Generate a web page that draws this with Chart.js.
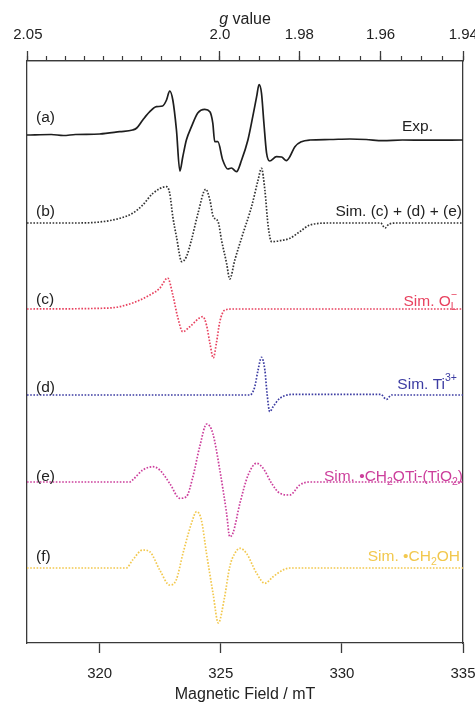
<!DOCTYPE html>
<html><head><meta charset="utf-8">
<script src="https://cdn.jsdelivr.net/npm/chart.js@4.4.0/dist/chart.umd.min.js"></script>
<style>html,body{margin:0;padding:0;background:#fff}#wrap{width:475px;height:702px;position:relative}</style>
</head><body><div id="wrap"><canvas id="c"></canvas></div>
<script>
// ---- data: [magnetic field (mT), intensity (a.u.)] ----
const expSpectrum = [[317.0,2],[318.0,2.5],[318.5,1.5],[319.0,2.5],[320.0,3],[320.83,5.3],[321.36,7],[321.53,9],[321.78,17],[322.07,25.3],[322.34,30.3],[322.6,31],[322.76,37],[322.89,46],[323.02,37],[323.17,7],[323.31,-34],[323.43,-20],[323.58,-3],[323.79,10.3],[324.05,24],[324.34,27.7],[324.55,25.3],[324.67,14],[324.75,-4.7],[324.88,-4.7],[325.08,-23],[325.29,-32],[325.44,-31],[325.65,-34.7],[325.86,-23],[326.12,-3],[326.32,20.3],[326.48,40.3],[326.58,52.5],[326.68,44],[326.78,14],[326.89,-16],[327.02,-24],[327.3,-19.7],[327.51,-20],[327.71,-23.7],[327.85,-19.7],[328.06,-9.7],[328.33,-4.7],[328.68,-3],[329.5,-2.5],[330.33,-2],[331.0,-2.5],[331.69,-3.7],[332.5,-3],[333.5,-3.2],[335.0,-3]];
const simSum = [[317,0],[319,0],[320,1],[320.83,4.7],[321.36,9.7],[321.78,18],[322.2,29.7],[322.76,36.3],[322.89,30],[323.02,6.3],[323.17,-13.7],[323.39,-38.7],[323.58,-33.7],[323.79,-17],[324.06,9.7],[324.38,33.7],[324.55,23],[324.69,6.3],[324.89,1.3],[325.03,-17],[325.24,-40.3],[325.37,-56],[325.58,-37],[325.92,-10.3],[326.27,16.3],[326.54,43],[326.68,54.7],[326.82,33],[326.96,-3.7],[327.1,-18.7],[327.44,-17.7],[327.85,-15.3],[328.26,-8.7],[328.68,-2],[329.5,0],[331.6,0],[331.78,-5],[331.95,-1],[332.3,0],[335,0]];
const simOL = [[317,0],[320.4,1],[321.36,6],[322.07,14],[322.48,20.7],[322.81,31],[323.02,14],[323.22,-8],[323.43,-22.7],[323.72,-17.7],[324.26,-7.7],[324.41,-16],[324.55,-34],[324.69,-49],[324.82,-34],[324.96,-12.7],[325.17,-1],[325.5,0],[335,0]];
const simTi = [[317,0],[326.2,0],[326.27,1],[326.4,8],[326.54,25],[326.68,37.7],[326.82,25],[326.91,1.7],[327.02,-16.7],[327.16,-11.7],[327.44,-3.3],[328.13,0.7],[331.6,0.7],[331.84,-4.3],[332.05,0],[335,0]];
const simCH2OTi = [[317,0],[321.24,0],[321.36,2],[321.78,12],[322.2,15.3],[322.48,12],[322.89,-1.3],[323.31,-16.3],[323.58,-14.7],[323.85,5.3],[324.13,35.3],[324.42,58],[324.67,48.7],[324.96,12],[325.24,-31.3],[325.37,-54.7],[325.5,-51.3],[325.79,-21.3],[326.13,7],[326.48,18.7],[326.75,13.7],[327.1,-1.3],[327.44,-11.3],[327.85,-13],[328.26,-3],[328.68,0],[335,0]];
const simCH2OH = [[317,0],[321.1,0],[321.36,8],[321.78,18],[322.07,16.3],[322.48,-2],[322.89,-17],[323.16,-12],[323.44,14.7],[323.79,44.7],[324.0,56.3],[324.2,48],[324.41,14.7],[324.68,-25.3],[324.9,-55],[325.15,-30],[325.37,1.3],[325.58,14.7],[325.79,19.7],[326.06,14.7],[326.48,-5.3],[326.82,-15.3],[327.16,-8.7],[327.57,-2],[327.85,0],[335,0]];

const fieldTicks = [320, 325, 330, 335];
const gMajor = [2.05, 2.0, 1.98, 1.96, 1.94];
const gMajorLabels = ['2.05', '2.0', '1.98', '1.96', '1.94'];
const gMinor = [2.05,2.045,2.04,2.035,2.03,2.025,2.02,2.015,2.01,2.005,2.0,1.995,1.99,1.985,1.98,1.975,1.97,1.965,1.96,1.955,1.95,1.945,1.94];
const MW_GHZ = 9.0965;
function gToField(g){ return 71.4477 * MW_GHZ / g; }

// vertical stacking of the traces (axis units)
const traceOffsets = [506, 420, 334, 248, 161, 75];

const FAM = '"Liberation Sans", Arial, Helvetica, sans-serif';
const AX = '#3a3a3a';
const LBL = 15.5;
const series = [
  {pts: expSpectrum, color:'#1e1e1e', dash:[]},
  {pts: simSum, color:'#333333', dash:[1.6,1.6]},
  {pts: simOL, color:'#e8425f', dash:[1.6,1.6]},
  {pts: simTi, color:'#3c3ca2', dash:[1.6,1.6]},
  {pts: simCH2OTi, color:'#cc3f9c', dash:[1.6,1.6]},
  {pts: simCH2OH, color:'#f2c84e', dash:[1.6,1.6]}
];

const labelDefs = [
  {tag:'(a)', tagDy:19, segs:[['Exp.']], xr:433, dy:10},
  {tag:'(b)', tagDy:11, segs:[['Sim. (c) + (d) + (e)']], xr:462, dy:11},
  {tag:'(c)', tagDy:9, segs:[['Sim. O'],['L','sub',true],['\u2212','sup']], xr:457, dy:7},
  {tag:'(d)', tagDy:7, segs:[['Sim. Ti'],['3+','sup']], xr:457, dy:10},
  {tag:'(e)', tagDy:5, segs:[['Sim. \u2022CH'],['2','sub'],['OTi-(TiO'],['2','sub'],[')']], xr:463, dy:5},
  {tag:'(f)', tagDy:11, segs:[['Sim. \u2022CH'],['2','sub'],['OH']], xr:460, dy:11}
];

function drawRich(ctx, segs, xr, ym, size, color){
  const parts = segs.map(([t,m,noAdv]) => {
    const fs = m ? size*0.68 : size;
    ctx.font = fs + 'px ' + FAM;
    return {t, m, fs, w: ctx.measureText(t).width, noAdv};
  });
  let total = 0;
  parts.forEach(p => { if(!p.noAdv) total += p.w; });
  let x = xr - total;
  ctx.fillStyle = color; ctx.textAlign = 'left'; ctx.textBaseline = 'middle';
  parts.forEach(p => {
    ctx.font = p.fs + 'px ' + FAM;
    const dy = p.m === 'sub' ? size*0.32 : (p.m === 'sup' ? -size*0.42 : 0);
    ctx.fillText(p.t, x, ym + dy);
    if(!p.noAdv) x += p.w;
  });
}

const labelPlugin = {
  id: 'traceLabels',
  afterDraw(chart){
    const ctx = chart.ctx, ys = chart.scales.y, area = chart.chartArea;
    ctx.save();
    const fi = 'italic 16px ' + FAM, fn = '16px ' + FAM;
    ctx.font = fi; const wg = ctx.measureText('g').width;
    ctx.font = fn; const wv = ctx.measureText(' value').width;
    const cx = (area.left + area.right)/2;
    const x0 = cx - (wg + wv)/2;
    const ty = chart.scales.x2.top + 20;
    ctx.fillStyle = '#222'; ctx.textAlign = 'left'; ctx.textBaseline = 'middle';
    ctx.font = fi; ctx.fillText('g', x0, ty);
    ctx.font = fn; ctx.fillText(' value', x0 + wg, ty);
    labelDefs.forEach((d, i) => {
      const base = ys.getPixelForValue(traceOffsets[i]);
      ctx.font = LBL + 'px ' + FAM; ctx.fillStyle = '#222'; ctx.textAlign = 'left'; ctx.textBaseline='middle';
      ctx.fillText(d.tag, area.left + 9, base - d.tagDy);
      drawRich(ctx, d.segs, d.xr, base - d.dy, LBL, i < 2 ? '#222' : series[i].color);
    });
    ctx.restore();
  }
};

const datasets = series.map((s, i) => ({
  data: s.pts.map(([f, v]) => ({x: f, y: traceOffsets[i] + v})),
  borderColor: s.color,
  borderWidth: i === 0 ? 1.7 : 1.7,
  borderDash: s.dash,
  pointRadius: 0,
  cubicInterpolationMode: 'monotone',
  xAxisID: 'x', yAxisID: 'y'
}));

function fixH(h){ return s => { s.height = h; s.paddingLeft = 0; s.paddingRight = 0; s.paddingTop = 0; s.paddingBottom = 0; }; }
function fixW(s){ s.width = 0; s.paddingLeft = 0; s.paddingRight = 0; s.paddingTop = 0; s.paddingBottom = 0; }

const tickFont = {family: FAM, size: 15};
new Chart(document.getElementById('c'), {
  type: 'line',
  data: {datasets},
  options: {
    responsive: true, maintainAspectRatio: false, animation: false,
    layout: {padding: {left: 27, right: 12, top: 0, bottom: 0}, autoPadding: false},
    plugins: {legend: {display: false}, tooltip: {enabled: false}},
    scales: {
      x: {
        type: 'linear', position: 'bottom', min: 317, max: 335,
        afterBuildTicks: s => { s.ticks = fieldTicks.map(v => ({value: v})); },
        afterFit: fixH(59),
        grid: {drawOnChartArea: false, tickLength: 10, tickColor: AX, tickWidth: 1.3},
        border: {display: true, color: AX, width: 1.3},
        ticks: {color: '#222', font: tickFont, padding: 12, maxRotation: 0, autoSkip: false, callback: v => String(v)},
        title: {display: true, text: 'Magnetic Field / mT', color: '#222', font: {family: FAM, size: 16, lineHeight: 1}, padding: {top: 0, bottom: -1}}
      },
      x2: {
        type: 'linear', position: 'top', min: 317, max: 335, weight: 2,
        afterBuildTicks: s => { s.ticks = gMajor.map(g => ({value: gToField(g)})); },
        afterFit: fixH(61),
        grid: {drawOnChartArea: false, tickLength: 10, tickColor: AX, tickWidth: 1.3},
        border: {display: true, color: AX, width: 1.3},
        ticks: {color: '#222', font: tickFont, padding: 7, maxRotation: 0, autoSkip: false, callback: (v, i) => gMajorLabels[i]}
      },
      x3: {
        type: 'linear', position: 'top', min: 317, max: 335, weight: 0,
        afterBuildTicks: s => { s.ticks = gMinor.map(g => ({value: gToField(g)})); },
        afterFit: fixH(0),
        grid: {drawOnChartArea: false, tickLength: 5, tickColor: AX, tickWidth: 1.2},
        border: {display: true, color: AX, width: 1.3},
        ticks: {display: false}
      },
      y: {
        type: 'linear', position: 'left', min: 0, max: 582,
        afterFit: fixW,
        grid: {drawOnChartArea: false, drawTicks: false},
        border: {display: true, color: AX, width: 1.3},
        ticks: {display: false}
      },
      y2: {
        type: 'linear', position: 'right', min: 0, max: 582,
        afterFit: fixW,
        grid: {drawOnChartArea: false, drawTicks: false},
        border: {display: true, color: AX, width: 1.3},
        ticks: {display: false}
      }
    }
  },
  plugins: [labelPlugin]
});
</script></body></html>
